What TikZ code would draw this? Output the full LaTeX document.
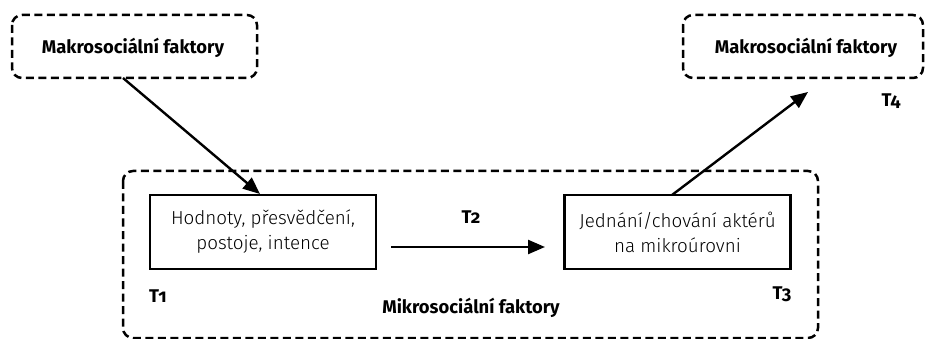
\documentclass[tikz,border=0pt]{standalone}
\usepackage{fontspec}
\setmainfont{Fira Sans}[Numbers=OldStyle]
\newfontfamily\lightfont{Fira Sans Light}[Numbers=OldStyle]
\usetikzlibrary{arrows.meta}
\begin{document}
\begin{tikzpicture}[x=1pt,y=-1pt,
  dashbox/.style={draw, line width=2.5pt, dash pattern=on 8pt off 4.5pt, rounded corners=10pt},
  solidbox/.style={draw, line width=2.5pt, minimum width=226pt, minimum height=74pt, align=center, font=\lightfont\fontsize{18.8}{25}\selectfont},
  boldlabel/.style={font=\bfseries\fontsize{18.4}{22}\selectfont, inner sep=0pt},
  conn/.style={line width=2.4pt, -{Triangle[length=17pt,width=14pt]}}]
\useasboundingbox (0,0) rectangle (926,339);
% outer frames
\draw[dashbox] (123,171) rectangle (818,338);
\draw[dashbox] (12,15) rectangle (257,78);
\draw[dashbox] (683,15) rectangle (923,78);
% macro labels
\node[boldlabel] (makroA) at (133,48) {Makrosociální faktory};
\node[boldlabel] (makroB) at (806,48) {Makrosociální faktory};
\coordinate (makroAbot) at (123,78);
\coordinate (makroBbot) at (808,92);
% micro boxes
\node[solidbox] (hodnoty) at (263,232) {Hodnoty, přesvědčení,\\postoje, intence};
\node[solidbox] (jednani) at (677.5,232) {Jednání/chování aktérů\\na mikroúrovni};
% time labels
\node[boldlabel] (t1) at (158,296) {T1};
\node[boldlabel] (t2) at (471,217) {T2};
\node[boldlabel] (t3) at (782,294) {T3};
\node[boldlabel] (t4) at (891,101) {T4};
\node[boldlabel] (mikro) at (471,308) {Mikrosociální faktory};
% connectors
\draw[conn] (makroAbot) -- (260,194);
\draw[conn] (hodnoty.east) ++(14,15) coordinate (hE) -- (545,247);
\draw[conn] (672,195) -- (makroBbot);
\end{tikzpicture}
\end{document}
